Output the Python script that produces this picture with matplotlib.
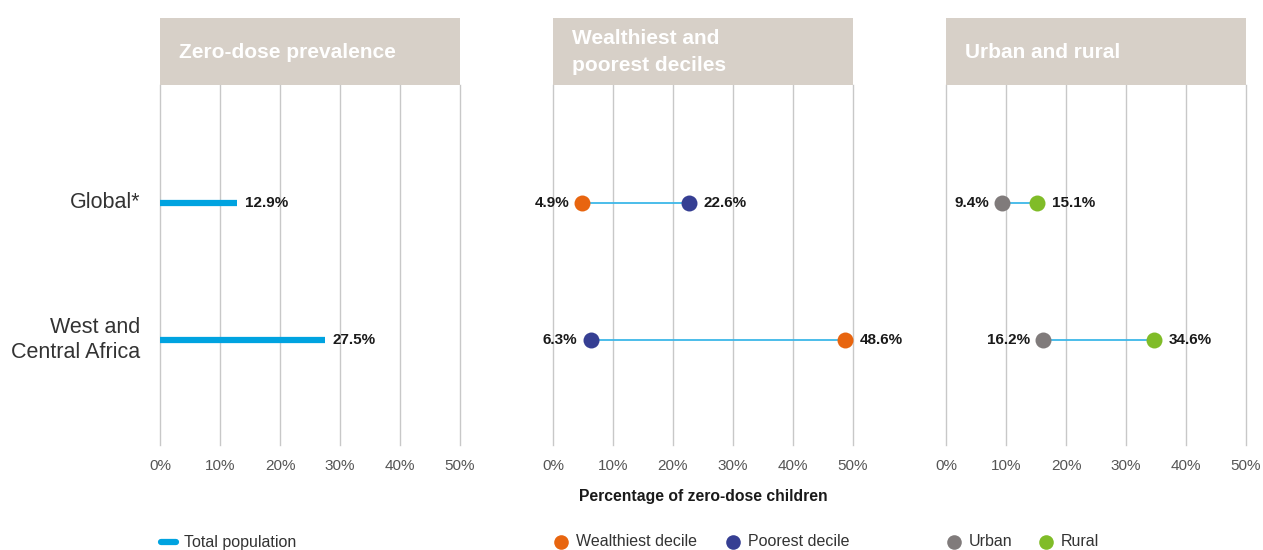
import matplotlib
matplotlib.use("Agg")
import matplotlib.pyplot as plt
from matplotlib.patches import Rectangle
from matplotlib.lines import Line2D

plt.rcParams['font.family'] = ['Liberation Sans', 'DejaVu Sans']

regions = ["Global*", "West and\nCentral Africa"]
total_population = [12.9, 27.5]
wealthiest = [4.9, 48.6]
poorest = [22.6, 6.3]
urban = [9.4, 16.2]
rural = [15.1, 34.6]
ticks = [0, 10, 20, 30, 40, 50]
tick_labels = ["0%", "10%", "20%", "30%", "40%", "50%"]
titles = ["Zero-dose prevalence", "Wealthiest and\npoorest deciles", "Urban and rural"]

C_BAR = "#00A3E0"
C_LINE = "#3DB7E8"
C_WEALTH = "#E8650F"
C_POOR = "#363F93"
C_URBAN = "#807B7B"
C_RURAL = "#80BC28"
C_HEAD = "#D7D0C8"
C_GRID = "#C8C8C8"

W, H = 1263, 550
fig = plt.figure(figsize=(W / 100, H / 100), dpi=100)

lefts = [160, 553, 946]
top_px, bot_px = 85, 445
axes = []
for lx in lefts:
    ax = fig.add_axes([lx / W, 1 - bot_px / H, 300 / W, (bot_px - top_px) / H])
    axes.append(ax)

ypos = [0, 1]
for ax, title in zip(axes, titles):
    ax.set_xlim(0, 50)
    ax.set_ylim(1.766, -0.861)
    for s in ax.spines.values():
        s.set_visible(False)
    ax.set_yticks([])
    ax.set_xticks(ticks)
    ax.set_xticklabels(tick_labels, fontsize=11, color="#555555")
    ax.tick_params(axis='x', length=0, pad=10)
    for t in ticks:
        ax.axvline(t, color=C_GRID, lw=1, zorder=0, clip_on=False)
    hdr_h = 67 / (bot_px - top_px)
    ax.add_patch(Rectangle((0, 1), 1, hdr_h, transform=ax.transAxes,
                           facecolor=C_HEAD, edgecolor="none", clip_on=False))
    ax.text(19 / 300, 1 + hdr_h / 2 - 0.002, title, transform=ax.transAxes,
            ha="left", va="center", color="white", fontsize=15,
            fontweight="bold", linespacing=1.5)

# Panel 1: bars
ax = axes[0]
for y, v in zip(ypos, total_population):
    ax.plot([0, v], [y, y], color=C_BAR, lw=4.5, solid_capstyle="butt", zorder=3)
    ax.text(v + 1.2, y, f"{v}%", ha="left", va="center", fontsize=11,
            fontweight="bold", color="#1a1a1a")
for y, lab in zip(ypos, regions):
    ax.text(-3.3, y, lab, ha="right", va="center", fontsize=15.5,
            color="#333333", linespacing=1.25)

def dumbbell(ax, a, b, ca, cb):
    for y, va, vb in zip(ypos, a, b):
        ax.plot([va, vb], [y, y], color=C_LINE, lw=1.3, zorder=2)
        ax.plot([va], [y], "o", ms=11.5, color=ca, mec="none", zorder=3)
        ax.plot([vb], [y], "o", ms=11.5, color=cb, mec="none", zorder=3)
        lo, hi = min(va, vb), max(va, vb)
        ax.text(lo - 2.2, y, f"{lo}%", ha="right", va="center", fontsize=11,
                fontweight="bold", color="#1a1a1a")
        ax.text(hi + 2.5, y, f"{hi}%", ha="left", va="center", fontsize=11,
                fontweight="bold", color="#1a1a1a")

dumbbell(axes[1], wealthiest, poorest, C_WEALTH, C_POOR)
dumbbell(axes[2], urban, rural, C_URBAN, C_RURAL)

fig.text(703 / W, 1 - 496 / H, "Percentage of zero-dose children", ha="center",
         va="center", fontsize=11.3, fontweight="bold", color="#1a1a1a")

# Legends
ly = 1 - 542 / H
fig.add_artist(Line2D([161 / W, 176 / W], [ly, ly], color=C_BAR, lw=4.5,
                      solid_capstyle="round"))
fig.text(184 / W, ly, "Total population", ha="left", va="center", fontsize=11.5, color="#333333")
for cx, col, lab in [(561, C_WEALTH, "Wealthiest decile"), (733, C_POOR, "Poorest decile"),
                     (954, C_URBAN, "Urban"), (1046, C_RURAL, "Rural")]:
    fig.add_artist(Line2D([cx / W], [ly], marker="o", ms=10.5, color=col, mec="none", lw=0))
    fig.text((cx + 15) / W, ly, lab, ha="left", va="center", fontsize=11.5, color="#333333")

fig.savefig("out.png", dpi=100, facecolor="white")
